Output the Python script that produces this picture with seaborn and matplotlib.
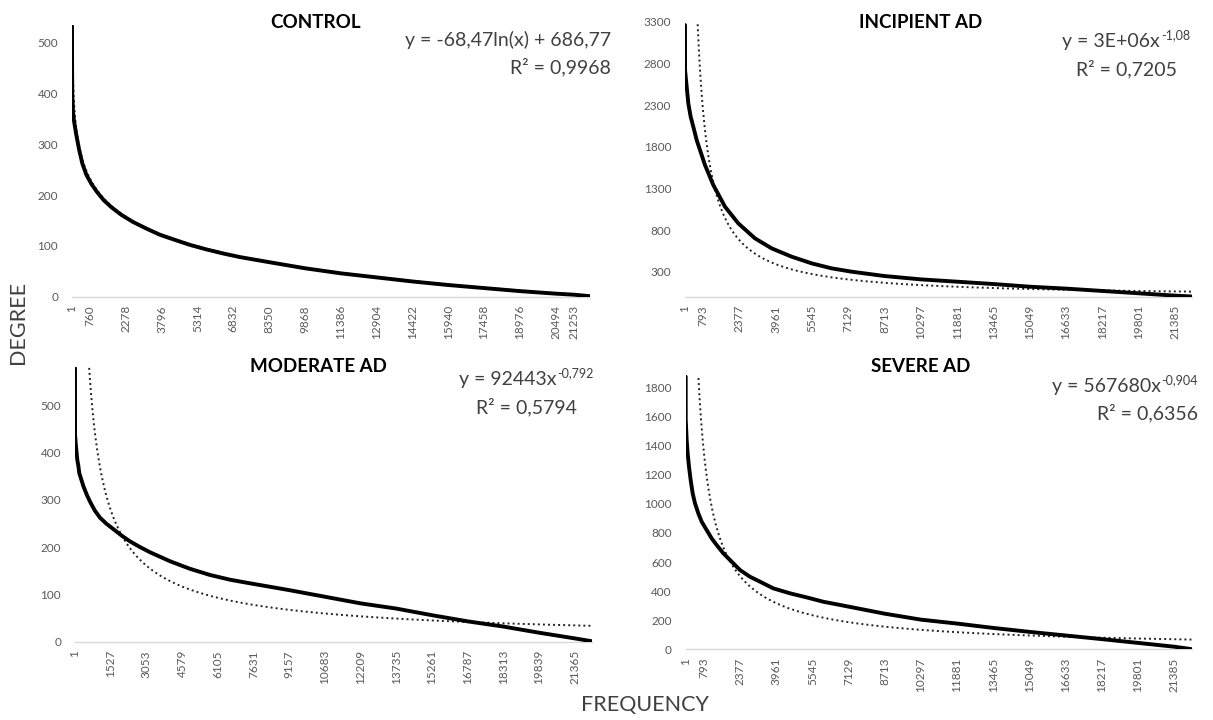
import numpy as np
import pandas as pd
import matplotlib
matplotlib.use("Agg")
import matplotlib.pyplot as plt
import seaborn as sns

# ---------------- data: node degree sorted by rank ----------------
control_rank = [1, 5, 15, 30, 43, 86, 185, 300, 440, 610, 822, 1062, 1345, 1672, 2096,
                2590, 3157, 3722, 4287, 4995, 5703, 6410, 7115, 8350, 9868, 11386,
                12904, 14422, 15940, 17458, 18976, 20494, 21253, 21950]
control_degree = [533, 450, 395, 381, 365, 346, 318, 290, 262, 240, 222, 206, 190, 176,
                  161, 147, 134, 122, 113, 102, 93, 85, 78, 68, 56, 46, 38, 30, 23, 17,
                  11, 6, 4, 1]
control_ticks = [1, 760, 2278, 3796, 5314, 6832, 8350, 9868, 11386, 12904, 14422,
                 15940, 17458, 18976, 20494, 21253]

incipient_rank = [1, 3, 74, 146, 248, 363, 510, 874, 1237, 1747, 2328, 3056, 3784, 4658,
                  5531, 6404, 7277, 8713, 10297, 11881, 13465, 15049, 16633, 18217,
                  19801, 21385, 22150]
incipient_degree = [3260, 2720, 2520, 2320, 2160, 2040, 1880, 1580, 1340, 1080, 880, 700,
                    580, 480, 400, 340, 300, 248, 208, 180, 152, 120, 97, 69, 41, 13, 2]
incipient_ticks = [1, 793, 2377, 3961, 5545, 7129, 8713, 10297, 11881, 13465, 15049,
                   16633, 18217, 19801, 21385]

moderate_rank = [1, 3, 44, 100, 143, 185, 357, 500, 642, 850, 1070, 1350, 1639, 2000,
                 2352, 2780, 3208, 4063, 4918, 5772, 6627, 7410, 9157, 10683, 12209,
                 13735, 15261, 16787, 18313, 19839, 21365, 22100]
moderate_degree = [578, 437, 412, 384, 372, 356, 329, 311, 296, 277, 262, 249, 238, 224,
                   212, 200, 189, 170, 154, 141, 131, 124, 109, 95, 81, 70, 56, 43, 32,
                   19, 7, 1]
moderate_ticks = [1, 1527, 3053, 4579, 6105, 7631, 9157, 10683, 12209, 13735, 15261,
                  16787, 18313, 19839, 21365]

severe_rank = [1, 2, 43, 87, 145, 218, 306, 408, 554, 700, 919, 1138, 1357, 1649, 1941,
               2379, 2816, 3254, 3838, 4567, 5297, 6027, 6757, 8713, 10297, 11881, 13465,
               15049, 16633, 18217, 19801, 21385, 22150]
severe_degree = [1875, 1580, 1440, 1348, 1256, 1164, 1073, 1004, 935, 878, 820, 763, 717,
                 660, 614, 545, 499, 465, 419, 385, 357, 327, 305, 245, 204, 177, 147,
                 120, 95, 70, 44, 18, 1]
severe_ticks = [1, 793, 2377, 3961, 5545, 7129, 8713, 10297, 11881, 13465, 15049,
                16633, 18217, 19801, 21385]

# trendline coefficients as printed on each panel
control_fit = ("log", -68.47, 686.77)
incipient_fit = ("power", 3e6, -1.08)
moderate_fit = ("power", 92443, -0.792)
severe_fit = ("power", 567680, -0.904)

titles = ["CONTROL", "INCIPIENT AD", "MODERATE AD", "SEVERE AD"]
eq_base = ["y = -68,47ln(x) + 686,77", "y = 3E+06x", "y = 92443x", "y = 567680x"]
eq_sup = ["", "-1,08", "-0,792", "-0,904"]
r_squared = ["R² = 0,9968", "R² = 0,7205", "R² = 0,5794", "R² = 0,6356"]

# ---------------- styling ----------------
sns.set_theme(style="white")
plt.rcParams["font.family"] = ["Lato", "DejaVu Sans"]

W, H = 1213, 720
fig = plt.figure(figsize=(W / 100, H / 100), dpi=100)
renderer = fig.canvas.get_renderer()


def box(left, top, right, bottom):
    return [left / W, 1 - bottom / H, (right - left) / W, (bottom - top) / H]


def px(x, y):
    return x / W, 1 - y / H


def equation(x, y, base, sup, ha, color):
    """Trendline equation with an optional superscript exponent."""
    t1 = fig.text(0, 0, base, fontsize=14, va="center", ha="left", color=color)
    w1 = t1.get_window_extent(renderer).width
    w2 = 0
    t2 = None
    if sup:
        t2 = fig.text(0, 0, sup, fontsize=9, va="center", ha="left", color=color)
        w2 = t2.get_window_extent(renderer).width + 1
    total = w1 + w2
    left = x - total if ha == "right" else (x - total / 2 if ha == "center" else x)
    t1.set_position(px(left, y))
    if t2 is not None:
        t2.set_position(px(left + w1 + 1, y - 7))


panels = [
    dict(rank=control_rank, degree=control_degree, ticks=control_ticks, fit=control_fit,
         n=21950, ylim=(0, 535), yticks=range(0, 501, 100),
         box=box(72, 24.9, 590, 296.7),
         title=(316, 22), eq=(611, 40, "right"), r2=(611, 67, "right")),
    dict(rank=incipient_rank, degree=incipient_degree, ticks=incipient_ticks, fit=incipient_fit,
         n=22150, ylim=(0, 3300), yticks=range(300, 3301, 500),
         box=box(685, 21.7, 1192.4, 296.7),
         title=(921, 22), eq=(1126, 41.7, "center"), r2=(1126, 69, "center")),
    dict(rank=moderate_rank, degree=moderate_degree, ticks=moderate_ticks, fit=moderate_fit,
         n=22100, ylim=(0, 580), yticks=range(0, 501, 100),
         box=box(75, 367.2, 591.9, 641.7),
         title=(318.6, 366.7), eq=(526, 380, "center"), r2=(526, 406.7, "center")),
    dict(rank=severe_rank, degree=severe_degree, ticks=severe_ticks, fit=severe_fit,
         n=22150, ylim=(0, 1890), yticks=range(0, 1801, 200),
         box=box(685.7, 374.5, 1191.6, 649.3),
         title=(920.5, 366.7), eq=(1198, 386.7, "right"), r2=(1198, 413.3, "right")),
]

tick_color = "#595959"
text_color = "#404040"

for i, p in enumerate(panels):
    ax = fig.add_axes(p["box"])
    df = pd.DataFrame({"rank": p["rank"], "degree": p["degree"]})

    # fitted trendline from the printed equation
    kind, a, b = p["fit"]
    xs = np.geomspace(1, p["n"], 800)
    ys = a * np.log(xs) + b if kind == "log" else a * xs ** b
    trend = pd.DataFrame({"rank": xs, "degree": ys})

    sns.lineplot(data=df, x="rank", y="degree", ax=ax, color="black", lw=2.8,
                 solid_joinstyle="round", zorder=3)
    sns.lineplot(data=trend, x="rank", y="degree", ax=ax, color="#222222", lw=1.4,
                 linestyle=(0, (1, 1.6)), zorder=2)

    ax.set_xlim(1, p["n"])
    ax.set_ylim(*p["ylim"])
    ax.set_xticks(p["ticks"])
    ax.set_xticklabels([str(t) for t in p["ticks"]])
    ax.set_yticks(list(p["yticks"]))
    ax.tick_params(axis="x", labelrotation=90, length=0, pad=6, labelsize=8.5,
                   colors=tick_color)
    ax.tick_params(axis="y", length=0, pad=10, labelsize=8.5, colors=tick_color)
    ax.set_xlabel("")
    ax.set_ylabel("")
    for s in ("top", "right", "left"):
        ax.spines[s].set_visible(False)
    ax.spines["bottom"].set_color("#d9d9d9")
    ax.spines["bottom"].set_linewidth(1.0)
    ax.patch.set_alpha(0)

    tx, ty = p["title"]
    fig.text(*px(tx, ty), titles[i], ha="center", va="center", fontsize=13.5,
             fontweight="bold", color="black")
    ex, ey, eha = p["eq"]
    equation(ex, ey, eq_base[i], eq_sup[i], eha, text_color)
    rx, ry, rha = p["r2"]
    fig.text(*px(rx, ry), r_squared[i], ha=rha, va="center", fontsize=14, color=text_color)

fig.text(*px(18, 322), "DEGREE", rotation=90, ha="center", va="center",
         fontsize=15.5, color=text_color)
fig.text(*px(645, 705), "FREQUENCY", ha="center", va="center",
         fontsize=15.5, color=text_color)

fig.savefig("out.png", dpi=100, facecolor="white")
